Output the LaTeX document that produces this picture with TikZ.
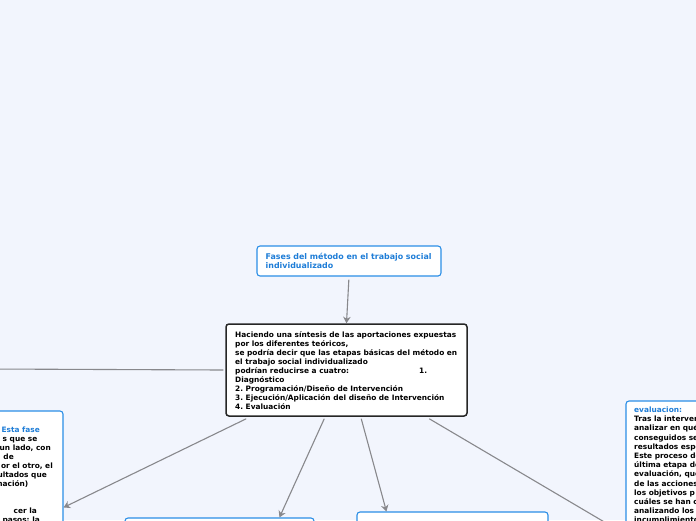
\documentclass[tikz,border=0pt]{standalone}
\usepackage{fontspec}
\setmainfont{DejaVu Sans}
\usetikzlibrary{arrows.meta}
\definecolor{bgc}{RGB}{242,245,253}
\definecolor{mmblue}{RGB}{43,142,230}
\definecolor{mmtext}{RGB}{30,125,215}
\definecolor{conncol}{RGB}{136,136,140}
\frenchspacing
\begin{document}
\begin{tikzpicture}[x=1pt,y=-1pt,
  bluebox/.style={draw=mmblue, line width=1.1pt, fill=white, rounded corners=3pt, inner sep=0pt},
  mainbox/.style={draw=black!85, line width=1.5pt, fill=white, rounded corners=3pt, inner sep=0pt},
  connline/.style={draw=conncol, line width=1.1pt},
  arr/.style={connline, -{Stealth[length=6.5pt,width=7.5pt]}},
  txt/.style={font=\fontsize{7.4}{9}\selectfont\bfseries, inner sep=0pt, anchor=base west},
  ttl/.style={font=\fontsize{7.9}{9.3}\selectfont\bfseries, inner sep=0pt, anchor=base west, text=mmtext}]
\useasboundingbox (0,0) rectangle (696,520);
\fill[bgc] (0,0) rectangle (696,520);
\clip (0,0) rectangle (696,520);

% boxes
\node[bluebox, minimum width=184pt, minimum height=30pt] (title) at (349,261) {};
\node[mainbox, minimum width=241pt, minimum height=92pt] (central) at (346.5,370) {};
\node[bluebox, minimum width=103pt, minimum height=134pt] (leftbox) at (11.5,478) {};
\node[bluebox, minimum width=104pt, minimum height=144pt] (rightbox) at (678,473) {};
\node[bluebox, minimum width=189pt, minimum height=42pt] (botleft) at (219.5,539) {};
\node[bluebox, minimum width=191pt, minimum height=48pt] (botmid) at (452.5,536) {};
\coordinate (offleft) at (-10,369);

% connectors
\draw[arr, shorten <=3pt] (title.south) -- (central.north);
\draw[connline] ([xshift=-2pt]central.west) -- (offleft);
\draw[arr] ([xshift=21pt,yshift=-2pt]central.south west) -- ([yshift=-97pt]leftbox.north east);
\draw[arr] ([xshift=99pt,yshift=-2pt]central.south west) -- ([xshift=155pt]botleft.north west);
\draw[arr] ([xshift=136pt,yshift=-2pt]central.south west) -- ([xshift=30pt]botmid.north west);
\draw[arr] ([xshift=204pt,yshift=-2pt]central.south west) -- ([yshift=-134pt]rightbox.north west);

% title text
\node[ttl] (t1) at (265.5,259.5) {Fases del método en el trabajo social};
\node[ttl] (t2) at (265.5,268.8) {individualizado};

% central text
\foreach \s [count=\i] in {
  Haciendo una síntesis de las aportaciones expuestas,
  {por los diferentes teóricos,},
  se podría decir que las etapas básicas del método en,
  el trabajo social individualizado,
  podrían reducirse a cuatro:,
  Diagnóstico,
  2. Programación/Diseño de Intervención,
  3. Ejecución/Aplicación del diseño de Intervención,
  4. Evaluación}
  \node[txt] (c\i) at (235,337.2+9*\i-9) {\s};
\node[txt] (cnum) at (419,373.2) {1.};

% left box fragments
\node[txt, anchor=base east, text=mmtext] (l1) at (40,432.5) {Esta fase};
\node[txt, anchor=base east] (l2) at (37.5,441.5) {s que se};
\node[txt, anchor=base east] (l3) at (51,450.5) {un lado, con};
\node[txt, anchor=base east] (l4) at (14,459.5) {de};
\node[txt, anchor=base east] (l5) at (53,468.5) {or el otro, el};
\node[txt, anchor=base east] (l6) at (47,477.5) {ultados que};
\node[txt, anchor=base east] (l7) at (28.5,486.5) {nación)};
\node[txt, anchor=base east] (l8) at (37,513.5) {cer la};
\node[txt, anchor=base east] (l9) at (40,522.5) {pasos: la};

% right box fragments
\node[txt, text=mmtext] (r0) at (634,412.5) {evaluacion:};
\foreach \s [count=\i] in {
  Tras la interven, analizar en qué, conseguidos se, resultados espe,
  Este proceso de, última etapa de, {evaluación, que}, de las acciones,
  los objetivos p, cuáles se han c, analizando los, incumplimiento}
  \node[txt] (r\i) at (634,412.5+9.2*\i) {\s};
\end{tikzpicture}
\end{document}
